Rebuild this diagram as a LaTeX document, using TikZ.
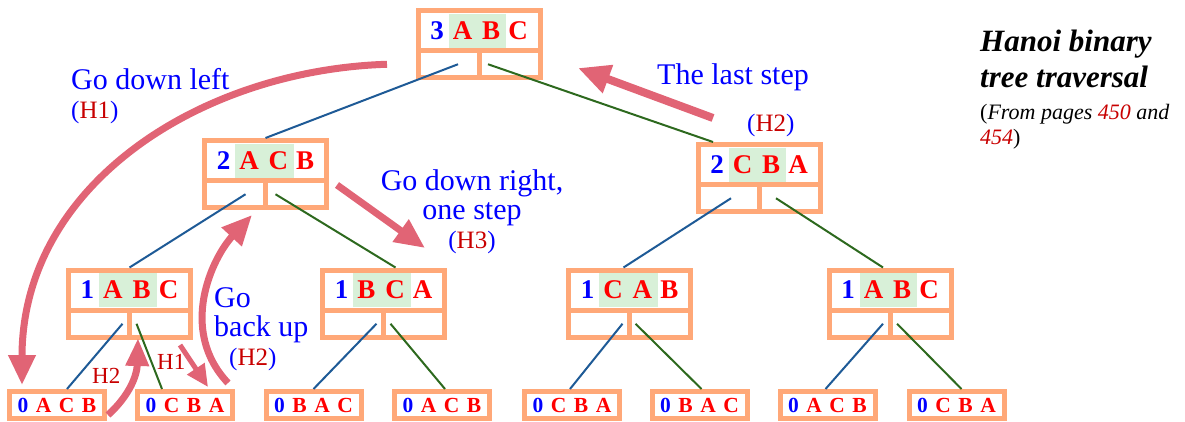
\documentclass[tikz,border=0pt]{standalone}
\usepackage{fontspec}
\setmainfont{Liberation Serif}
\usetikzlibrary{arrows.meta}

\definecolor{hblue}{RGB}{0,0,255}
\definecolor{hred}{RGB}{255,0,0}
\definecolor{hdred}{RGB}{200,0,0}
\definecolor{hgreen}{RGB}{216,240,216}
\definecolor{horange}{RGB}{255,168,120}
\definecolor{lblue}{RGB}{30,90,150}
\definecolor{lgreen}{RGB}{45,105,30}
\definecolor{harrow}{RGB}{225,100,117}

% Chữ trong các nút
\newcommand{\pegs}[4]{\textcolor{hblue}{#1}\hspace{5pt}{\setlength{\fboxsep}{0pt}\colorbox{hgreen}{\rule[-8.5pt]{0pt}{34pt}\hspace{4pt}#2\hspace{10pt}#3\hspace{6pt}}}\hspace{2pt}#4}
\newcommand{\leafpegs}[4]{\textcolor{hblue}{#1}\hspace{7.5pt}#2\hspace{7.5pt}#3\hspace{7.5pt}#4}
\newcommand{\hh}[1]{(\textcolor{hdred}{#1})}

\begin{document}
\begin{tikzpicture}[x=1pt,y=-1pt,
    inode/.style={draw=horange,line width=5pt,outer sep=0pt,inner sep=0pt,
        minimum width=122pt,minimum height=40.5pt,text=hred,
        font=\fontsize{27}{27}\selectfont\bfseries},
    cell/.style={draw=horange,line width=5pt,outer sep=0pt,inner sep=0pt,
        minimum width=61pt,minimum height=26.5pt},
    leaf/.style={draw=horange,line width=5pt,outer sep=0pt,inner sep=0pt,
        minimum width=95pt,minimum height=27pt,text=hred,
        font=\fontsize{21.5}{21.5}\selectfont\bfseries},
    bline/.style={lblue,line width=2pt},
    gline/.style={lgreen,line width=2pt},
    redarrow/.style={harrow,line width=7pt,-{Triangle[length=30pt,width=26pt]}},
    lbl/.style={inner sep=0pt,text=hblue,anchor=base west,
        font=\fontsize{30}{29}\selectfont}]
    \useasboundingbox (0,0) rectangle (1185,422);

    % Vẽ các nút
    \node[inode] (t3) at (479,30.75) {\pegs{3}{A}{B}{C}};
    \node[inode] (t2a) at (265.5,160.75) {\pegs{2}{A}{C}{B}};
    \node[inode] (t2b) at (759,164.75) {\pegs{2}{C}{B}{A}};
    \node[inode] (t1a) at (129.5,290.25) {\pegs{1}{A}{B}{C}};
    \node[inode] (t1b) at (383.5,290.25) {\pegs{1}{B}{C}{A}};
    \node[inode] (t1c) at (629.5,290.25) {\pegs{1}{C}{A}{B}};
    \node[inode] (t1d) at (890,290.25) {\pegs{1}{A}{B}{C}};

    % Hai ô con dưới mỗi nút
    \foreach \n in {t3,t2a,t2b,t1a,t1b,t1c,t1d} {
        \node[cell,anchor=north west] (\n-l) at (\n.south west) {};
        \node[cell,anchor=north east] (\n-r) at (\n.south east) {};
    }

    % Các lá
    \foreach \n/\x/\pa/\pb/\pc in {t0a/57/A/C/B,t0b/185/C/B/A,t0c/313.5/B/A/C,
        t0d/442/A/C/B,t0e/572/C/B/A,t0f/699.5/B/A/C,t0g/827.5/A/C/B,t0h/956.5/C/B/A}
    \node[leaf] (\n) at (\x,405) {\leafpegs{0}{\pa}{\pb}{\pc}};

    % Vẽ các đường nối
    \foreach \p/\c/\s/\e in {t3/t2a/-21pt/0pt,t2a/t1a/-20pt/0pt,t2b/t1c/-28pt/-6pt,
        t1a/t0a/-7pt/10pt,t1b/t0c/-7pt/0pt,t1c/t0e/-7pt/-2pt,t1d/t0g/-7pt/-2pt}
    \draw[bline] ([xshift=\s]\p-l.east) -- ([xshift=\e,yshift=2.5pt]\c.north);
    \foreach \p/\c/\s/\e in {t3/t2b/9pt/-46pt,t2a/t1b/10pt/12pt,t2b/t1d/17pt/-7pt,
        t1a/t0b/7pt/-23pt,t1b/t0d/7pt/3pt,t1c/t0f/6pt/2pt,t1d/t0h/7pt/5pt}
    \draw[gline] ([xshift=\s]\p-r.west) -- ([xshift=\e,yshift=2.5pt]\c.north);

    % Ghi chú
    \node[lbl,align=left] (gdl) at (71,119)
        {Go down left\\{\fontsize{25}{31}\selectfont\hh{H1}}};
    \node[lbl] (last) at (657,85) {The last step};
    \node[lbl,font=\fontsize{25}{25}\selectfont] (h2b) at (747,132) {\hh{H2}};
    \node[lbl,anchor=base,align=center] (gdr) at (472,248)
        {Go down right,\\one step\\{\fontsize{25}{28}\selectfont\hh{H3}}};
    \node[lbl,align=left] (gbu) at (214,365)
        {Go\\back up\\\hspace{15pt}{\fontsize{25}{29}\selectfont\hh{H2}}};
    \node[lbl,text=hdred,font=\fontsize{23}{23}\selectfont] (h2s) at (92,383) {H2};
    \node[lbl,text=hdred,font=\fontsize{23}{23}\selectfont] (h1s) at (157,369) {H1};
    \node[lbl,text=black,align=left,font=\fontsize{31}{36}\selectfont\bfseries\itshape]
        (title) at (980,88) {Hanoi binary\\tree traversal};
    \node[lbl,text=black,align=left,font=\fontsize{22}{25}\selectfont\itshape]
        (src) at (980,145) {\textup{(}From pages \textcolor{hdred}{450} and\\\textcolor{hdred}{454}\textup{)}};

    % Vẽ mũi tên
    \draw[redarrow] ([xshift=-31pt]t3-l.west) .. controls +(-187,6) and +(0,-200)
        .. ([xshift=12.5pt,yshift=6.5pt]t0a.north west);
    \draw[redarrow] ([xshift=-4.5pt,yshift=8.5pt]t0b.north east) .. controls +(-50,-53) and +(-40,43)
        .. ([xshift=17pt,yshift=-7.5pt]t2a-l.south);
    \draw[redarrow,-{Triangle[length=28pt,width=22pt]}] ([xshift=3.5pt,yshift=-10pt]t0a.east)
        .. controls +(22,-20) and +(-1,37) .. ([xshift=8.5pt,yshift=-1pt]t1a-r.south west);
    \draw[redarrow,line width=5pt,-{Triangle[length=22pt,width=20pt]}]
        ([xshift=-10.5pt,yshift=-8pt]t1a-r.south east) -- ([xshift=23pt,yshift=4.5pt]t0b.north);
    \draw[redarrow] ([xshift=10.5pt,yshift=-4pt]t2a.south east) -- ([xshift=-19.5pt,yshift=22pt]t1b.north east);
    \draw[redarrow,line width=8pt,-{Triangle[length=32pt,width=28pt]}]
        ([xshift=15pt,yshift=26.5pt]t2b.north west) -- ([xshift=38pt,yshift=-3.75pt]t3-r.east);
\end{tikzpicture}
\end{document}
